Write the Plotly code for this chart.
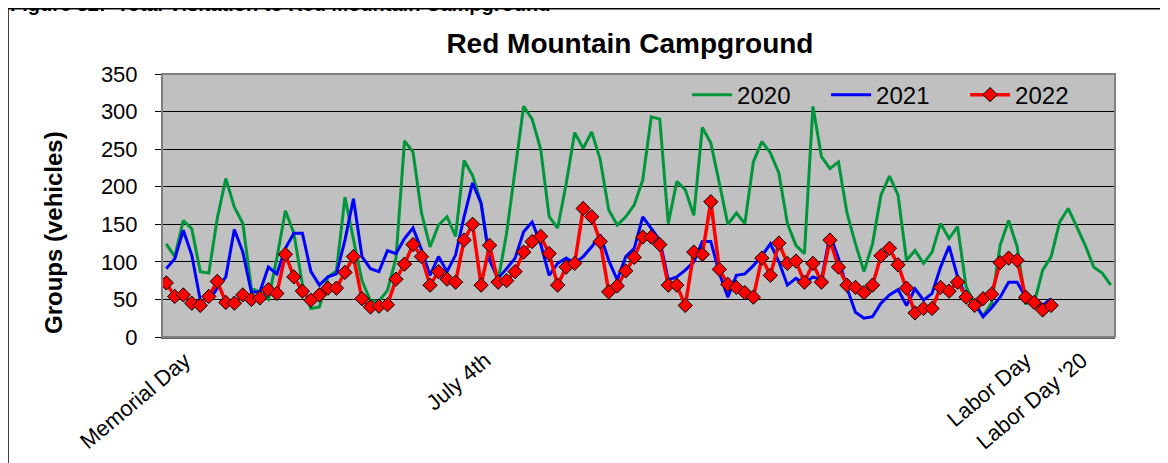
import plotly.graph_objects as go

# daily counts, Memorial Day -> Labor Day (index = day of season)
visits_2020 = [124, 107, 155, 144, 87, 85, 158, 211, 173, 151,
               65, 60, 50, 105, 168, 138, 70, 38, 40, 80,
               88, 186, 130, 75, 48, 48, 62, 105, 261, 246,
               165, 120, 149, 160, 134, 235, 215, 178, 105, 75,
               138, 222, 307, 290, 250, 160, 145, 204, 272, 251,
               273, 236, 169, 149, 160, 176, 209, 293, 290, 151,
               207, 196, 162, 279, 258, 205, 150, 165, 151, 233,
               260, 245, 218, 151, 122, 111, 307, 240, 224, 233,
               165, 124, 87, 124, 189, 214, 189, 102, 115, 98,
               113, 151, 131, 147, 67, 44, 28, 45, 122, 155,
               120, 45, 45, 89, 107, 153, 171, 147, 122, 93,
               85, 69]

visits_2021 = [91, 104, 142, 109, 49, 48, 65, 80, 143, 113,
               60, 60, 93, 84, 118, 138, 138, 87, 69, 80,
               84, 129, 184, 107, 91, 87, 115, 111, 131, 145,
               116, 82, 107, 87, 109, 160, 205, 178, 102, 78,
               91, 105, 140, 153, 124, 82, 98, 105, 98, 107,
               120, 136, 102, 76, 107, 118, 160, 145, 129, 76,
               80, 89, 100, 127, 127, 85, 53, 82, 84, 95,
               108, 124, 100, 69, 78, 71, 80, 76, 136, 105,
               65, 33, 25, 27, 45, 56, 63, 42, 64, 49,
               58, 93, 121, 80, 53, 45, 27, 39, 53, 73,
               73, 53, 47, 42, 51]

visits_2022 = [72, 54, 56, 45, 42, 54, 74, 46, 45, 56,
               50, 52, 63, 58, 110, 80, 61, 49, 56, 65,
               65, 86, 107, 51, 40, 41, 43, 77, 97, 123,
               107, 69, 87, 77, 73, 129, 150, 69, 122, 73,
               75, 87, 113, 127, 134, 111, 69, 93, 98, 171,
               160, 127, 60, 68, 88, 106, 133, 133, 123, 69,
               69, 42, 113, 110, 180, 90, 70, 66, 59, 53,
               105, 82, 125, 98, 101, 73, 98, 73, 129, 93,
               69, 66, 59, 69, 108, 118, 96, 65, 32, 38,
               38, 66, 61, 73, 53, 42, 51, 57, 99, 105,
               102, 53, 46, 36, 42]

holiday_pos = [2.2, 37.5, 101, 107.6]
holiday_labels = ['Memorial Day', 'July 4th', 'Labor Day', "Labor Day '20"]

FONT = 'Liberation Sans, Arial, sans-serif'

fig = go.Figure()

fig.add_trace(go.Scatter(
    x=list(range(len(visits_2020))), y=visits_2020, name='2020',
    mode='lines', line=dict(color='#00963c', width=3)
))
fig.add_trace(go.Scatter(
    x=list(range(len(visits_2021))), y=visits_2021, name='2021',
    mode='lines', line=dict(color='#0000ff', width=3)
))
fig.add_trace(go.Scatter(
    x=list(range(len(visits_2022))), y=visits_2022, name='2022',
    mode='lines+markers', line=dict(color='#ff0000', width=3.5),
    marker=dict(symbol='diamond', size=11, color='#ff0000',
                line=dict(color='black', width=1))
))

# page has an 8px body margin, so the figure is sized/placed to compensate
fig.update_layout(
    width=1160, height=455,
    margin=dict(l=154, r=53, t=66, b=126, autoexpand=False),
    paper_bgcolor='white',
    plot_bgcolor='#c0c0c0',
    font=dict(family=FONT, color='black'),
    title=dict(text='<b>Red Mountain Campground</b>', x=0.491, xref='paper',
               xanchor='center', y=1 - 35 / 455, yanchor='middle',
               font=dict(size=28, family=FONT)),
    showlegend=True,
    legend=dict(orientation='h', x=0.551, xanchor='left', y=0.92, yanchor='middle',
                bgcolor='rgba(0,0,0,0)', font=dict(size=24),
                entrywidth=84, entrywidthmode='pixels', itemwidth=40),
    xaxis=dict(
        range=[-0.5, 111.5], tickvals=holiday_pos, ticktext=holiday_labels,
        tickangle=-40, tickfont=dict(size=22), ticks='', showgrid=False,
        zeroline=False, showline=True, linecolor='#606060', linewidth=2,
    ),
    yaxis=dict(
        range=[0, 350], dtick=50, tickfont=dict(size=22),
        showgrid=True, gridcolor='black', gridwidth=1, zeroline=False,
        showline=True, linecolor='black', linewidth=1,
        ticks='outside', ticklen=6, tickcolor='black', ticklabelstandoff=13,
    ),
    annotations=[
        dict(text='<b>Groups (vehicles)</b>', textangle=-90, xref='paper', yref='paper',
             x=-0.1144, y=0.399, xanchor='center', yanchor='middle', showarrow=False,
             font=dict(size=24)),
        dict(text='<b>Figure 32:  Total Visitation to Red Mountain Campground</b>',
             xref='paper', yref='paper', x=-0.162, y=1.217, xanchor='left', yanchor='bottom',
             showarrow=False, font=dict(size=20)),
    ],
    shapes=[
        # plot area border
        dict(type='rect', xref='paper', yref='paper', x0=0, y0=0, x1=1, y1=1,
             line=dict(color='#808080', width=2)),
        # chart frame
        dict(type='rect', xref='paper', yref='paper', x0=-0.1616, y0=-0.6, x1=1.07, y1=1.2481,
             line=dict(color='black', width=1.5)),
    ],
)

fig.write_html('out.html')
